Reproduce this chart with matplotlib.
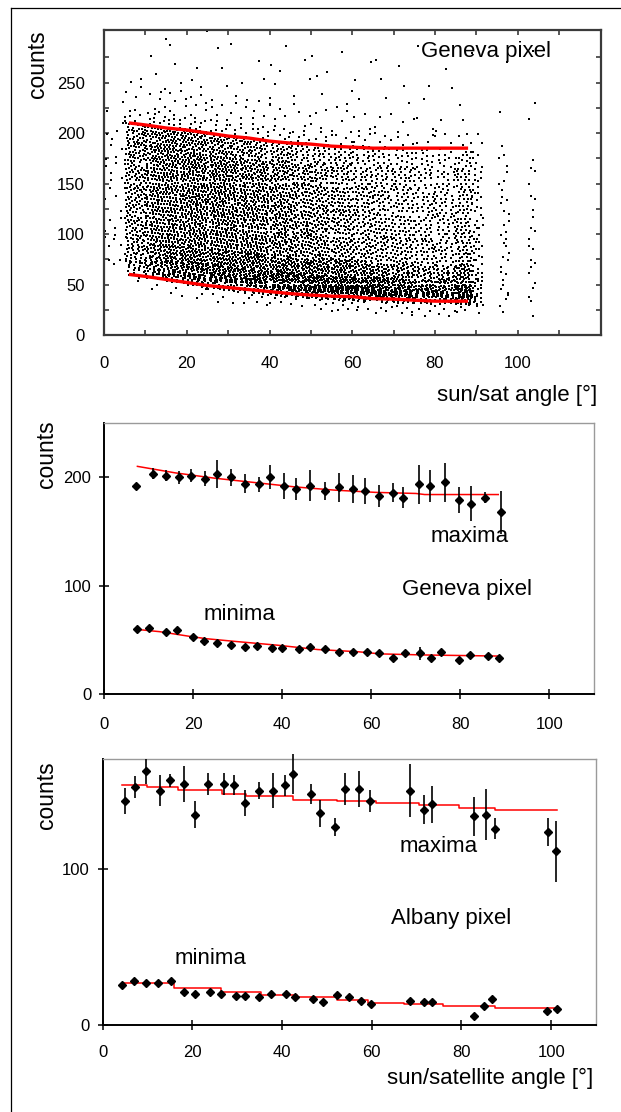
import numpy as np
import matplotlib
matplotlib.use("Agg")
import matplotlib.pyplot as plt
from matplotlib.lines import Line2D

plt.rcParams['font.family'] = ['Liberation Sans', 'DejaVu Sans']

# ---------------- Panel 1: Geneva pixel scatter (density) -------------
CLOUD_ANGLE_BINS = [(0, 5), (5, 10), (10, 15), (15, 20), (20, 25), (25, 30), (30, 35),
                    (35, 40), (40, 45), (45, 50), (50, 55), (55, 60), (60, 65), (65, 70),
                    (70, 75), (75, 80), (80, 85), (85, 89), (89, 91.5), (95.5, 98),
                    (102.5, 104.5)]
# lower edge of the cloud (counts) for each angle bin
CLOUD_BASE = [63, 60, 57, 54, 51, 48, 46, 44, 42, 40.5, 39, 38, 37, 36, 35, 34, 34, 33,
              33, 31, 33]
# rows: counts above the cloud's lower edge
CLOUD_ROW_EDGES = [-15, -3, 3, 10, 20, 35, 60, 85, 110, 130, 150, 165, 190, 220, 255]
# number of dots per (angle bin, row)
CLOUD_COUNTS = [
    [0, 0, 1, 3, 4, 5, 4, 5, 4, 4, 1, 1, 0, 0],
    [1, 6, 12, 18, 26, 45, 45, 48, 38, 35, 7, 4, 1, 0],
    [2, 10, 18, 28, 40, 60, 60, 62, 52, 48, 10, 6, 2, 1],
    [3, 14, 24, 34, 48, 68, 68, 68, 58, 52, 10, 6, 2, 1],
    [3, 15, 26, 36, 50, 68, 68, 70, 60, 50, 10, 6, 3, 1],
    [3, 15, 27, 37, 50, 68, 68, 70, 58, 46, 9, 5, 2, 1],
    [3, 16, 28, 38, 50, 66, 66, 66, 55, 42, 8, 5, 2, 1],
    [4, 17, 30, 40, 50, 62, 62, 62, 50, 38, 8, 5, 2, 1],
    [4, 18, 32, 42, 50, 60, 58, 56, 46, 34, 7, 4, 2, 2],
    [4, 19, 34, 44, 50, 56, 54, 52, 40, 30, 6, 4, 2, 1],
    [5, 20, 35, 45, 48, 52, 48, 46, 36, 26, 6, 4, 2, 2],
    [5, 20, 36, 46, 46, 48, 44, 42, 32, 22, 5, 3, 2, 1],
    [5, 20, 37, 46, 44, 44, 40, 38, 28, 20, 5, 3, 2, 1],
    [5, 20, 36, 44, 40, 40, 36, 34, 25, 18, 5, 3, 2, 1],
    [5, 18, 32, 40, 36, 36, 32, 30, 22, 16, 4, 3, 2, 1],
    [4, 16, 28, 36, 32, 32, 28, 26, 20, 14, 4, 2, 2, 1],
    [4, 15, 26, 34, 30, 30, 26, 24, 18, 13, 3, 2, 1, 1],
    [4, 16, 28, 36, 32, 32, 28, 26, 20, 14, 3, 2, 1, 1],
    [2, 5, 8, 10, 9, 12, 11, 10, 8, 6, 1, 1, 0, 0],
    [1, 1, 2, 3, 3, 5, 6, 5, 4, 3, 1, 1, 0, 1],
    [1, 1, 1, 2, 2, 4, 4, 3, 2, 2, 0, 1, 1, 1],
]

# red envelope lines, panel 1
P1_LINE_ANGLE = [6, 10, 15, 20, 25, 30, 35, 40, 45, 50, 55, 60, 65, 70, 75, 80, 85, 88]
P1_MAX_LINE = [210, 208, 205, 203, 200, 197, 195, 192, 190, 189, 187, 186, 185, 185, 185,
               185, 185, 185]
P1_MIN_LINE = [60, 58, 55, 52, 49, 47, 45, 43, 41, 39.5, 38.5, 38, 36, 35.5, 34.5, 33.5,
               33.5, 33.5]

# ---------------- Panel 2: Geneva pixel maxima / minima -------------
P2_MAX_ANGLE = [7.1, 11.0, 13.9, 16.8, 19.6, 22.7, 25.4, 28.5, 31.6, 34.8, 37.2, 40.3, 43.0,
                46.2, 49.7, 52.7, 55.9, 58.7, 61.7, 64.9, 67.2, 70.8, 73.1, 76.6, 79.7,
                82.4, 85.5, 89.1]
P2_MAX = [192, 203.4, 201.5, 200, 201.5, 198.5, 203, 200, 194, 193.5, 200, 192.3, 189.2,
          192.3, 187.4, 190.5, 189, 187.4, 182.8, 185.8, 181.2, 193.5, 192, 195.4, 179.4,
          175.7, 181, 167.7]
P2_MAX_ERR = [2, 5, 5, 6, 6, 7, 13, 8, 9, 7, 11, 12, 10, 14, 8, 13, 13, 12, 10, 9, 10, 18,
              15, 18, 12, 16, 5, 20]
P2_MIN_ANGLE = [7.5, 10.1, 13.9, 16.4, 20.0, 22.4, 25.4, 28.5, 31.6, 34.4, 37.8, 39.9, 43.7,
                46.2, 49.7, 52.7, 55.9, 59.0, 61.7, 64.9, 67.5, 71.0, 73.3, 75.7, 79.7,
                82.1, 86.3, 88.7]
P2_MIN = [60.3, 60.6, 57.2, 59, 52.3, 49.2, 47.4, 45.2, 43.7, 44, 42.5, 42.8, 41.2, 43,
          41.2, 39.1, 39.1, 39.1, 37.5, 32.9, 37.5, 37.5, 32.9, 39.1, 31.4, 36.3, 35.1, 32.9]
P2_MIN_ERR = [2, 2, 2, 2, 2, 2, 2, 2, 2, 2, 2, 2, 2, 2, 2, 2, 2, 2, 2, 2, 3, 6, 3, 2, 2, 2,
              3, 3]
P2_MAXLINE_ANGLE = [7.5, 16, 25, 34, 43, 52, 61, 70, 72, 88.5]
P2_MAXLINE = [210, 204, 199, 195, 191, 188, 186, 185, 184, 184]
P2_MINLINE_ANGLE = [7.1, 12.5, 19.5, 23, 30, 39, 48, 57, 62, 72, 88.5]
P2_MINLINE = [59.7, 57.5, 53, 51, 48.3, 45, 41, 39, 37, 36, 35]

# ---------------- Panel 3: Albany pixel maxima / minima -------------
P3_MAX_ANGLE = [4.9, 7.3, 9.6, 12.7, 15.1, 18.1, 20.5, 23.6, 27.1, 29.4, 31.7, 34.8, 37.9,
                40.6, 42.5, 46.4, 48.4, 51.9, 54.1, 57.2, 59.6, 68.5, 71.6, 73.5, 82.7,
                85.5, 87.4, 99.4, 101.0]
P3_MAX = [143.2, 151.9, 162.1, 149.8, 156.4, 154, 134.3, 154, 154, 153.2, 142.1, 149.8,
          149.8, 153.2, 160.6, 147.7, 135.3, 126.4, 150.9, 150.9, 143.2, 149.8, 137.7,
          141.1, 133.4, 134.3, 125.3, 123.2, 111.1]
P3_MAX_ERR = [8.5, 7, 8, 10, 4, 11.5, 8.7, 7, 7, 6.4, 8.3, 5.6, 11, 6.7, 12.8, 6.6, 8.5,
              5.6, 10.4, 11.7, 7.2, 17, 9.4, 11.7, 12.3, 16.3, 6.7, 8.8, 19.5]
P3_MIN_ANGLE = [4.3, 6.9, 9.6, 12.3, 15.3, 18.1, 20.5, 23.9, 26.4, 29.7, 31.7, 34.8, 37.6,
                40.9, 42.9, 46.8, 49.1, 52.2, 54.9, 57.6, 59.9, 68.5, 71.6, 73.5, 82.7,
                85.1, 86.9, 99.1, 101.4]
P3_MIN = [25.3, 28.1, 26.8, 26.8, 28.1, 21.1, 20, 21.1, 20, 18.7, 18.7, 17.7, 20, 20, 17.7,
          16.6, 14.5, 18.9, 17.7, 15.5, 13.2, 15.5, 14.5, 14.5, 5.5, 12.1, 16.6, 8.7, 10]
P3_MIN_ERR = [1.5] * 29
P3_MAXLINE_ANGLE = [4.3, 9.8, 16.9, 26.6, 31.9, 42.5, 52.2, 61, 70.6, 79.5, 87.5, 101.3]
P3_MAXLINE = [153.4, 152.1, 150, 147.9, 146.4, 144, 143, 141.9, 140.4, 139, 137.7, 137.7]
P3_MINLINE_ANGLE = [4.3, 16, 26.5, 35.4, 43.3, 52.2, 59.2, 67.1, 76, 87.4, 101.3]
P3_MINLINE = [26.8, 23.4, 21.3, 19.1, 17.7, 16, 14.3, 13.2, 12.1, 11.1, 11.1]

# ====================================================================================
W, H = 621, 1112
fig = plt.figure(figsize=(W / 100, H / 100), dpi=100)

# outer frame (top and left edges visible)
fig.add_artist(Line2D([11 / W, 1.0], [1 - 7.5 / H] * 2, transform=fig.transFigure,
                      color='black', lw=0.9))
fig.add_artist(Line2D([11 / W] * 2, [0, 1 - 7.5 / H], transform=fig.transFigure,
                      color='black', lw=0.9))

TICK_FS = 12
TEXT_FS = 16


def box(l, r, t, b):
    return [l / W, 1 - b / H, (r - l) / W, (b - t) / H]


# ---------------- Panel 1 ----------------
ax1 = fig.add_axes(box(104, 600.5, 30, 335))
A1, A2 = 0.7548776662466927, 0.5698402909980532
centers = [(lo + hi) / 2 for lo, hi in CLOUD_ANGLE_BINS]
xs, ys = [], []
idx = 0
for (lo, hi), row in zip(CLOUD_ANGLE_BINS, CLOUD_COUNTS):
    for r_lo, r_hi, n in zip(CLOUD_ROW_EDGES[:-1], CLOUD_ROW_EDGES[1:], row):
        i = np.arange(idx, idx + n)
        idx += n
        u = (0.5 + A1 * i) % 1.0
        v = (0.5 + A2 * i) % 1.0
        x = np.round((lo + u * (hi - lo)) * 4) / 4
        base = np.interp(x, centers, CLOUD_BASE)
        xs.append(x)
        ys.append(np.round(base + r_lo + v * (r_hi - r_lo)))
xs = np.concatenate(xs)
ys = np.concatenate(ys)
ax1.plot(xs, ys, linestyle='none', marker='s', markersize=1.5, color='black',
         markeredgewidth=0)
ax1.plot(P1_LINE_ANGLE, P1_MAX_LINE, color='#ff0000', lw=2.4, solid_capstyle='butt')
ax1.plot(P1_LINE_ANGLE, P1_MIN_LINE, color='#ff0000', lw=2.4, solid_capstyle='butt')
ax1.set_xlim(0, 120)
ax1.set_ylim(0, 302)
ax1.set_xticks([0, 20, 40, 60, 80, 100])
ax1.set_xticks([10, 30, 50, 70, 90, 110], minor=True)
ax1.set_yticks([0, 50, 100, 150, 200, 250])
ax1.set_yticks([25, 75, 125, 175, 225, 275], minor=True)
for s in ax1.spines.values():
    s.set_color('#3a3a3a')
    s.set_linewidth(1.6)
ax1.tick_params(which='both', direction='in', top=True, right=True, length=3.5,
                width=1.2, color='#3a3a3a', labelsize=TICK_FS)
ax1.tick_params(axis='x', which='both', pad=15)
ax1.tick_params(axis='y', which='both', pad=14)
ax1.text(76.6, 281, 'Geneva pixel', fontsize=TEXT_FS, ha='left', va='center')
fig.text(597 / W, 1 - 395 / H, 'sun/sat angle [°]', fontsize=TEXT_FS, ha='right',
         va='center')
fig.text(37.5 / W, 1 - 64 / H, 'counts', fontsize=TEXT_FS + 0.5, rotation=90,
         ha='center', va='center')


def style_lower(ax, yt):
    for side in ('top', 'right'):
        ax.spines[side].set_color('#9a9a9a')
        ax.spines[side].set_linewidth(1.0)
    for side in ('left', 'bottom'):
        ax.spines[side].set_color('black')
        ax.spines[side].set_linewidth(1.4)
    ax.set_xlim(0, 110)
    ax.set_xticks([0, 20, 40, 60, 80, 100])
    ax.set_yticks(yt)
    ax.tick_params(direction='inout', length=6.5, width=1.1, color='black',
                   labelsize=TICK_FS)


def draw_series(ax, ang, val, err):
    ax.errorbar(ang, val, yerr=err, fmt='D', color='black', markersize=3.7,
                ecolor='black', elinewidth=1.2, capsize=0, zorder=3, clip_on=False)


# ---------------- Panel 2 ----------------
ax2 = fig.add_axes(box(104, 594, 423, 694))
ax2.plot(P2_MAXLINE_ANGLE, P2_MAXLINE, color='#ff0000', lw=1.1, zorder=2)
ax2.plot(P2_MINLINE_ANGLE, P2_MINLINE, color='#ff0000', lw=1.1, zorder=2)
draw_series(ax2, P2_MAX_ANGLE, P2_MAX, P2_MAX_ERR)
draw_series(ax2, P2_MIN_ANGLE, P2_MIN, P2_MIN_ERR)
ax2.set_ylim(0, 250)
style_lower(ax2, [0, 100, 200])
ax2.tick_params(axis='x', pad=13)
ax2.tick_params(axis='y', pad=6)
ax2.text(73.4, 145, 'maxima', fontsize=TEXT_FS, ha='left', va='center')
ax2.text(66.8, 96, 'Geneva pixel', fontsize=TEXT_FS, ha='left', va='center')
ax2.text(22.3, 73, 'minima', fontsize=TEXT_FS, ha='left', va='center')
fig.text(47 / W, 1 - 454 / H, 'counts', fontsize=TEXT_FS + 0.5, rotation=90,
         ha='center', va='center')

# ---------------- Panel 3 ----------------
ax3 = fig.add_axes(box(102.6, 596, 759, 1025))
ax3.plot(P3_MAXLINE_ANGLE, P3_MAXLINE, color='#ff0000', lw=1.1, zorder=2,
         drawstyle='steps-post')
ax3.plot(P3_MINLINE_ANGLE, P3_MINLINE, color='#ff0000', lw=1.1, zorder=2,
         drawstyle='steps-post')
draw_series(ax3, P3_MAX_ANGLE, P3_MAX, P3_MAX_ERR)
draw_series(ax3, P3_MIN_ANGLE, P3_MIN, P3_MIN_ERR)
ax3.set_ylim(0, 170)
style_lower(ax3, [0, 100])
ax3.tick_params(axis='x', pad=11)
ax3.tick_params(axis='y', pad=6)
ax3.text(66.3, 114, 'maxima', fontsize=TEXT_FS, ha='left', va='center')
ax3.text(64.2, 68, 'Albany pixel', fontsize=TEXT_FS, ha='left', va='center')
ax3.text(16.1, 42.5, 'minima', fontsize=TEXT_FS, ha='left', va='center')
fig.text(593 / W, 1 - 1078 / H, 'sun/satellite angle [°]', fontsize=TEXT_FS,
         ha='right', va='center')
fig.text(47 / W, 1 - 795 / H, 'counts', fontsize=TEXT_FS + 0.5, rotation=90,
         ha='center', va='center')

fig.savefig('out.png', dpi=100)
